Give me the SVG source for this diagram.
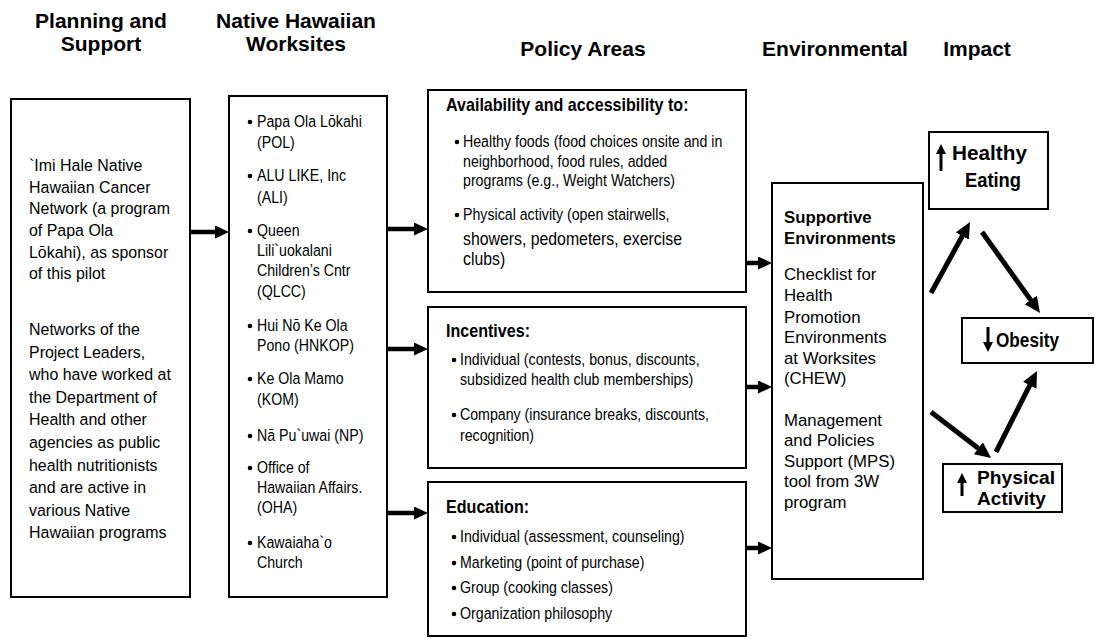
<svg xmlns="http://www.w3.org/2000/svg" width="1097" height="639" viewBox="0 0 1097 639">
  <style>
    .box { fill: #fff; stroke: #000; stroke-width: 2; }
    .hd { font-family: "Liberation Sans", Arial, sans-serif; font-weight: bold; font-size: 21px; fill: #000; text-anchor: middle; }
    .tx { font-family: "Liberation Sans", Arial, sans-serif; font-size: 16.8px; fill: #000; }
    .cn { font-family: "Liberation Sans", Arial, sans-serif; font-size: 16.5px; fill: #000; }
    .cb { font-family: "Liberation Sans", Arial, sans-serif; font-size: 17.5px; font-weight: bold; fill: #000; }
    .big { font-family: "Liberation Sans", Arial, sans-serif; font-size: 18px; fill: #000; }
    .bd { font-family: "Liberation Sans", Arial, sans-serif; font-size: 16.8px; font-weight: bold; fill: #000; }
    .im { font-family: "Liberation Sans", Arial, sans-serif; font-size: 19.5px; font-weight: bold; fill: #000; }
    .im2 { font-family: "Liberation Sans", Arial, sans-serif; font-size: 18px; font-weight: bold; fill: #000; }
    .flow { stroke: #000; stroke-width: 4.5; fill: none; marker-end: url(#head); }
    .diag { stroke: #000; stroke-width: 5; fill: none; marker-end: url(#headBig); }
    .ind { stroke: #000; stroke-width: 3; fill: none; }
  </style>
  <defs>
    <marker id="head" viewBox="0 0 14 13" refX="5" refY="6.5" markerWidth="14" markerHeight="13" markerUnits="userSpaceOnUse" orient="auto">
      <path d="M0,0 L14,6.5 L0,13 z" fill="#000"/>
    </marker>
    <marker id="headBig" viewBox="0 0 16 15" refX="6" refY="7.5" markerWidth="16" markerHeight="15" markerUnits="userSpaceOnUse" orient="auto">
      <path d="M0,0 L16,7.5 L0,15 z" fill="#000"/>
    </marker>
  </defs>

  <!-- column headings -->
  <g id="headings">
    <text class="hd" x="101" y="28">Planning and</text>
    <text class="hd" x="101" y="51">Support</text>
    <text class="hd" x="296" y="28">Native Hawaiian</text>
    <text class="hd" x="296" y="51">Worksites</text>
    <text class="hd" x="583" y="56">Policy Areas</text>
    <text class="hd" x="835" y="56">Environmental</text>
    <text class="hd" x="977" y="56">Impact</text>
  </g>

  <!-- planning and support -->
  <g id="planning">
    <rect class="box" x="11" y="99" width="179" height="498"/>
    <g transform="translate(29,0) scale(0.95,1)">
      <text class="tx" x="0" y="171">`Imi Hale Native</text>
      <text class="tx" x="0" y="193">Hawaiian Cancer</text>
      <text class="tx" x="0" y="214">Network (a program</text>
      <text class="tx" x="0" y="236">of Papa Ola</text>
      <text class="tx" x="0" y="258">Lōkahi), as sponsor</text>
      <text class="tx" x="0" y="279">of this pilot</text>
      <text class="tx" x="0" y="335">Networks of the</text>
      <text class="tx" x="0" y="358">Project Leaders,</text>
      <text class="tx" x="0" y="380">who have worked at</text>
      <text class="tx" x="0" y="403">the Department of</text>
      <text class="tx" x="0" y="425">Health and other</text>
      <text class="tx" x="0" y="448">agencies as public</text>
      <text class="tx" x="0" y="471">health nutritionists</text>
      <text class="tx" x="0" y="493">and are active in</text>
      <text class="tx" x="0" y="516">various Native</text>
      <text class="tx" x="0" y="538">Hawaiian programs</text>
    </g>
  </g>

  <!-- worksites -->
  <g id="worksites">
    <rect class="box" x="229" y="96" width="158" height="501"/>
    <g fill="#000">
      <circle cx="250" cy="122" r="2.3"/>
      <circle cx="250" cy="176" r="2.3"/>
      <circle cx="250" cy="231" r="2.3"/>
      <circle cx="250" cy="326" r="2.3"/>
      <circle cx="250" cy="379" r="2.3"/>
      <circle cx="250" cy="436" r="2.3"/>
      <circle cx="250" cy="468" r="2.3"/>
      <circle cx="250" cy="543" r="2.3"/>
    </g>
    <g transform="translate(257,0) scale(0.86,1)">
      <text class="cn" x="0" y="127">Papa Ola Lōkahi</text>
      <text class="cn" x="0" y="148">(POL)</text>
      <text class="cn" x="0" y="181">ALU LIKE, Inc</text>
      <text class="cn" x="0" y="203">(ALI)</text>
      <text class="cn" x="0" y="236">Queen</text>
      <text class="cn" x="0" y="256">Lili`uokalani</text>
      <text class="cn" x="0" y="276">Children’s Cntr</text>
      <text class="cn" x="0" y="297">(QLCC)</text>
      <text class="cn" x="0" y="331">Hui Nō Ke Ola</text>
      <text class="cn" x="0" y="351">Pono (HNKOP)</text>
      <text class="cn" x="0" y="384">Ke Ola Mamo</text>
      <text class="cn" x="0" y="405">(KOM)</text>
      <text class="cn" x="0" y="441">Nā Pu`uwai (NP)</text>
      <text class="cn" x="0" y="473">Office of</text>
      <text class="cn" x="0" y="493">Hawaiian Affairs.</text>
      <text class="cn" x="0" y="513">(OHA)</text>
      <text class="cn" x="0" y="548">Kawaiaha`o</text>
      <text class="cn" x="0" y="568">Church</text>
    </g>
  </g>

  <!-- policy area: availability -->
  <g id="availability">
    <rect class="box" x="428" y="90" width="318" height="202"/>
    <g fill="#000">
      <circle cx="457" cy="142" r="2.3"/>
      <circle cx="457" cy="215" r="2.3"/>
    </g>
    <g transform="translate(446,0) scale(0.92,1)">
      <text class="cb" x="0" y="111">Availability and accessibility to:</text>
    </g>
    <g transform="translate(463,0) scale(0.86,1)">
      <text class="cn" x="0" y="147">Healthy foods (food choices onsite and in</text>
      <text class="cn" x="0" y="167">neighborhood, food rules, added</text>
      <text class="cn" x="0" y="186">programs (e.g., Weight Watchers)</text>
      <text class="cn" x="0" y="220">Physical activity (open stairwells,</text>
    </g>
    <g transform="translate(463,0) scale(0.88,1)">
      <text class="big" x="0" y="245">showers, pedometers, exercise</text>
      <text class="big" x="0" y="265">clubs)</text>
    </g>
  </g>

  <!-- policy area: incentives -->
  <g id="incentives">
    <rect class="box" x="428" y="307" width="318" height="161"/>
    <g fill="#000">
      <circle cx="454" cy="360" r="2.3"/>
      <circle cx="454" cy="415" r="2.3"/>
    </g>
    <g transform="translate(446,0) scale(0.92,1)">
      <text class="cb" x="0" y="337">Incentives:</text>
    </g>
    <g transform="translate(460,0) scale(0.86,1)">
      <text class="cn" x="0" y="365">Individual (contests, bonus, discounts,</text>
      <text class="cn" x="0" y="385">subsidized health club memberships)</text>
      <text class="cn" x="0" y="420">Company (insurance breaks, discounts,</text>
      <text class="cn" x="0" y="441">recognition)</text>
    </g>
  </g>

  <!-- policy area: education -->
  <g id="education">
    <rect class="box" x="428" y="482" width="318" height="154"/>
    <g fill="#000">
      <circle cx="454" cy="537" r="2.3"/>
      <circle cx="454" cy="563" r="2.3"/>
      <circle cx="454" cy="588" r="2.3"/>
      <circle cx="454" cy="614" r="2.3"/>
    </g>
    <g transform="translate(446,0) scale(0.92,1)">
      <text class="cb" x="0" y="513">Education:</text>
    </g>
    <g transform="translate(460,0) scale(0.86,1)">
      <text class="cn" x="0" y="542">Individual (assessment, counseling)</text>
      <text class="cn" x="0" y="568">Marketing (point of purchase)</text>
      <text class="cn" x="0" y="593">Group (cooking classes)</text>
      <text class="cn" x="0" y="619">Organization philosophy</text>
    </g>
  </g>

  <!-- environmental -->
  <g id="supportive">
    <rect class="box" x="772" y="183" width="151" height="396"/>
    <text class="bd" x="784" y="223">Supportive</text>
    <text class="bd" x="784" y="244">Environments</text>
    <text class="tx" x="784" y="280">Checklist for</text>
    <text class="tx" x="784" y="301">Health</text>
    <text class="tx" x="784" y="323">Promotion</text>
    <text class="tx" x="784" y="343">Environments</text>
    <text class="tx" x="784" y="364">at Worksites</text>
    <text class="tx" x="784" y="384">(CHEW)</text>
    <text class="tx" x="784" y="426">Management</text>
    <text class="tx" x="784" y="446">and Policies</text>
    <text class="tx" x="784" y="467">Support (MPS)</text>
    <text class="tx" x="784" y="487">tool from 3W</text>
    <text class="tx" x="784" y="508">program</text>
  </g>

  <!-- impact -->
  <g id="healthy-eating">
    <rect class="box" x="929" y="132" width="119" height="77"/>
    <line class="ind" x1="941" y1="171" x2="941" y2="152"/>
    <path d="M936,154 L941,144 L946,154 z" fill="#000"/>
    <text class="im" x="952" y="160" textLength="75" lengthAdjust="spacingAndGlyphs">Healthy</text>
    <text class="im" x="965" y="187" textLength="56" lengthAdjust="spacingAndGlyphs">Eating</text>
  </g>
  <g id="obesity">
    <rect class="box" x="962" y="318" width="131" height="45"/>
    <line class="ind" x1="988" y1="327" x2="988" y2="344"/>
    <path d="M983,342 L988,352 L993,342 z" fill="#000"/>
    <text class="im" x="996" y="347" textLength="63" lengthAdjust="spacingAndGlyphs">Obesity</text>
  </g>
  <g id="physical-activity">
    <rect class="box" x="943" y="464" width="119" height="48"/>
    <line class="ind" x1="962" y1="496" x2="962" y2="481"/>
    <path d="M957,483 L962,473 L967,483 z" fill="#000"/>
    <text class="im2" x="977" y="484" textLength="78" lengthAdjust="spacingAndGlyphs">Physical</text>
    <text class="im2" x="977" y="505" textLength="69" lengthAdjust="spacingAndGlyphs">Activity</text>
  </g>

  <!-- connectors -->
  <g id="connectors">
    <line class="flow" x1="190" y1="232" x2="220" y2="232"/>
    <line class="flow" x1="387" y1="229" x2="419" y2="229"/>
    <line class="flow" x1="387" y1="349" x2="419" y2="349"/>
    <line class="flow" x1="387" y1="513" x2="419" y2="513"/>
    <line class="flow" x1="746" y1="263" x2="763" y2="263"/>
    <line class="flow" x1="746" y1="387" x2="763" y2="387"/>
    <line class="flow" x1="746" y1="548" x2="763" y2="548"/>
    <line class="diag" x1="931" y1="293" x2="965.2" y2="230.8"/>
    <line class="diag" x1="982" y1="232" x2="1034.2" y2="304.9"/>
    <line class="diag" x1="931" y1="412" x2="983.1" y2="451.9"/>
    <line class="diag" x1="996" y1="452" x2="1032.5" y2="379.9"/>
  </g>
</svg>
